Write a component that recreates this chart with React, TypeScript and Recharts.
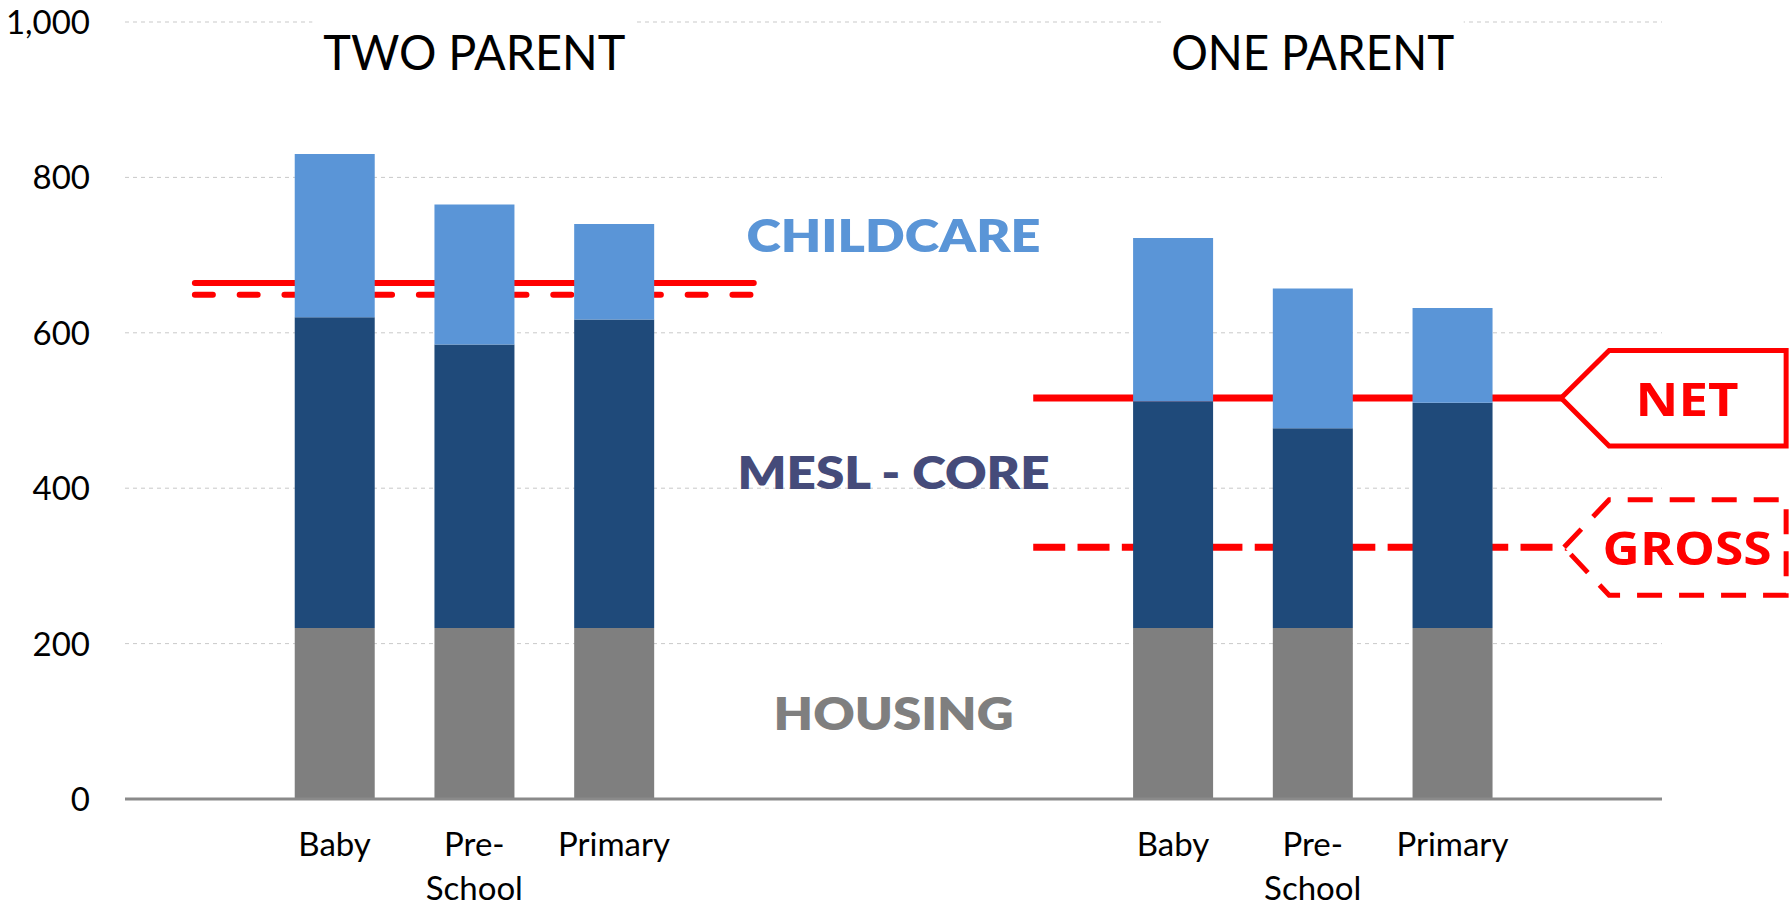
import React from 'react';
import { ComposedChart, Bar, Line, XAxis, YAxis, CartesianGrid, ReferenceDot } from 'recharts';

const slots = ['s0', 's1', 's2', 's3', 's4', 's5', 's6', 's7', 's8', 's9', 's10'];
const xLabels = ['', 'Baby', 'Pre-\nSchool', 'Primary', '', '', '', 'Baby', 'Pre-\nSchool', 'Primary', ''];
const housing = [null, 220, 220, 220, null, null, null, 220, 220, 220, null];
const core = [null, 400, 365, 397, null, null, null, 292, 257, 290, null];
const childcare = [null, 210, 180, 123, null, null, null, 210, 180, 122, null];
const twoParentNet = [664, 664, 664, 664, 664, null, null, null, null, null, null];
const twoParentGross = [649, 649, 649, 649, 649, null, null, null, null, null, null];
const oneParentNet = [null, null, null, null, null, null, 516, 516, 516, 516, 516];
const oneParentGross = [null, null, null, null, null, null, 324, 324, 324, 324, 324];
const yTicks = [0, 200, 400, 600, 800, 1000];

const groupTitles = [
  { slot: 's2', y: 959, text: 'TWO PARENT', width: 302, bg: 324 },
  { slot: 's8', y: 959, text: 'ONE PARENT', width: 283, bg: 302 },
];
const segmentLabels = [
  { slot: 's5', y: 724, text: 'CHILDCARE', color: '#5A95D7', width: 294 },
  { slot: 's5', y: 420, text: 'MESL - CORE', color: '#454B7A', width: 312 },
  { slot: 's5', y: 109, text: 'HOUSING', color: '#7F7F7F', width: 240 },
];
const boxLabels = [
  { slot: 's10', y: 516, text: 'NET', dashed: false, width: 103 },
  { slot: 's10', y: 324, text: 'GROSS', dashed: true, width: 169 },
];

const data = slots.map((slot, i) => ({
  slot,
  housing: housing[i],
  core: core[i],
  childcare: childcare[i],
  twoParentNet: twoParentNet[i],
  twoParentGross: twoParentGross[i],
  oneParentNet: oneParentNet[i],
  oneParentGross: oneParentGross[i],
}));

const labelBySlot: Record<string, string> = {};
slots.forEach((s, i) => { labelBySlot[s] = xLabels[i]; });

const GILL = 'Lato, "Open Sans", sans-serif';
const BOLD = 'Lato, "Open Sans", sans-serif';

const XTick = (props: any) => {
  const { x, y, payload } = props;
  const label = labelBySlot[payload.value] || '';
  if (!label) return <g />;
  const lines = label.split('\n');
  return (
    <g>
      {lines.map((l: string, i: number) => (
        <text key={i} x={x} y={y + 57 + i * 44} textAnchor="middle" fontFamily={GILL} fontSize={33} fill="#000">
          {l}
        </text>
      ))}
    </g>
  );
};

const YTick = (props: any) => {
  const { x, y, payload } = props;
  return (
    <text x={x} y={y} dy={12} textAnchor="end" fontFamily={GILL} fontSize={33} fill="#000">
      {Number(payload.value).toLocaleString('en-US')}
    </text>
  );
};

const titleShape = (t: any) => (props: any) => {
  const { cx, cy } = props;
  return (
    <g>
      <rect x={cx - t.bg / 2} y={cy - 40} width={t.bg} height={75} fill="#fff" />
      <text x={cx} y={cy + 16} textAnchor="middle" fontFamily={GILL} fontSize={48} fill="#000"
        textLength={t.width} lengthAdjust="spacingAndGlyphs">
        {t.text}
      </text>
    </g>
  );
};

const segShape = (t: any) => (props: any) => {
  const { cx, cy } = props;
  return (
    <text x={cx} y={cy + 16} textAnchor="middle" fontFamily={BOLD} fontWeight={800} fontSize={45} fill={t.color}
      textLength={t.width} lengthAdjust="spacingAndGlyphs">
      {t.text}
    </text>
  );
};

const boxShape = (t: any) => (props: any) => {
  const { cx, cy } = props;
  const tip = t.dashed ? cx - 28 : cx - 31;
  const d = `M ${tip} ${cy} L ${cx + 17} ${cy - 47.5} L ${cx + 194} ${cy - 47.5} L ${cx + 194} ${cy + 48} L ${cx + 17} ${cy + 48} Z`;
  return (
    <g>
      <path d={d} fill="#fff" stroke="#FF0000" strokeWidth={5} strokeDasharray={t.dashed ? '25 17' : undefined} />
      <text x={cx + 95} y={cy + 18} textAnchor="middle" fontFamily='"Open Sans", sans-serif' fontWeight={700} fontSize={46}
        fill="#FF0000" textLength={t.width} lengthAdjust="spacingAndGlyphs">
        {t.text}
      </text>
    </g>
  );
};

export default function App() {
  return (
    <div style={{ position: 'absolute', left: 0, top: 0, width: 1789, height: 906, background: '#fff' }}>
      <ComposedChart width={1789} height={906} data={data} margin={{ top: 22, right: 127, bottom: 0, left: 0 }}>
        <CartesianGrid vertical={false} stroke="#c9c9c9" strokeDasharray="4 4" strokeWidth={1} />
        <XAxis dataKey="slot" interval={0} height={107} tickLine={false} tickSize={0} tickMargin={0}
          axisLine={{ stroke: '#8a8a8a', strokeWidth: 3 }} tick={<XTick />} />
        <YAxis domain={[0, 1000]} ticks={yTicks} width={125} axisLine={false} tickLine={false}
          tickSize={0} tickMargin={35} tick={<YTick />} interval={0} />
        <Line dataKey="twoParentNet" stroke="#FF0000" strokeWidth={6} strokeLinecap="round" dot={false}
          activeDot={false} isAnimationActive={false} connectNulls={false} zIndex={250} />
        <Line dataKey="twoParentGross" stroke="#FF0000" strokeWidth={6} strokeLinecap="round" strokeDasharray="18 26.8"
          dot={false} activeDot={false} isAnimationActive={false} connectNulls={false} zIndex={250} />
        <Line dataKey="oneParentNet" stroke="#FF0000" strokeWidth={7} strokeLinecap="butt" dot={false}
          activeDot={false} isAnimationActive={false} connectNulls={false} zIndex={250} />
        <Line dataKey="oneParentGross" stroke="#FF0000" strokeWidth={7} strokeLinecap="butt" strokeDasharray="32 12.3"
          dot={false} activeDot={false} isAnimationActive={false} connectNulls={false} zIndex={250} />
        <Bar dataKey="housing" stackId="a" fill="#7F7F7F" barSize={80} isAnimationActive={false} />
        <Bar dataKey="core" stackId="a" fill="#1F4A7A" barSize={80} isAnimationActive={false} />
        <Bar dataKey="childcare" stackId="a" fill="#5A95D7" barSize={80} isAnimationActive={false} />
        {groupTitles.map((t) => (
          <ReferenceDot key={t.text} x={t.slot} y={t.y} ifOverflow="visible" shape={titleShape(t)} />
        ))}
        {segmentLabels.map((t) => (
          <ReferenceDot key={t.text} x={t.slot} y={t.y} ifOverflow="visible" shape={segShape(t)} />
        ))}
        {boxLabels.map((t) => (
          <ReferenceDot key={t.text} x={t.slot} y={t.y} ifOverflow="visible" shape={boxShape(t)} />
        ))}
      </ComposedChart>
    </div>
  );
}
